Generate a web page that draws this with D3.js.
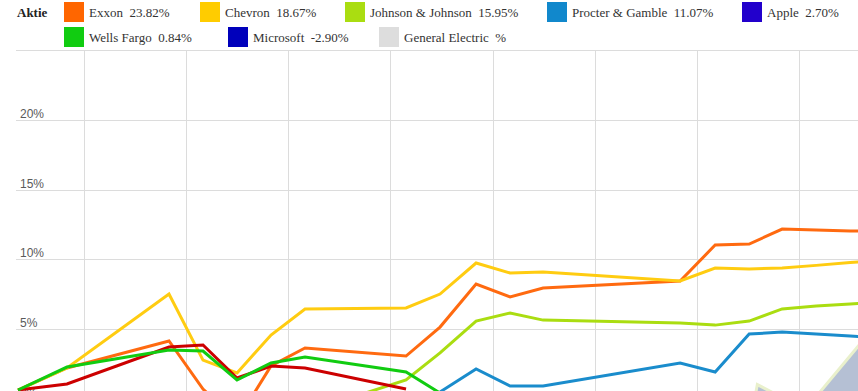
<!DOCTYPE html>
<html><head><meta charset="utf-8">
<script src="https://cdn.jsdelivr.net/npm/d3@7"></script>
<style>body{margin:0;background:#fff;overflow:hidden}svg{display:block}</style>
</head><body>
<svg id="c" width="858" height="391"></svg>
<script>
// ---- data ----
const periods = [0, 1.44, 4.44, 5.44, 6.44, 7.44, 8.44, 11.41, 12.41, 13.47, 14.47, 15.44, 19.47, 20.5, 21.5, 22.47, 23.47, 24.47, 25.47];
const exxon    = [0.61, 2.19, 4.13, 0.68, -1.6, 2.34, 3.63, 3.05, 5.13, 8.22, 7.29, 7.93, 8.44, 11.02, 11.09, 12.17, 12.10, 12.03, 11.99];
const chevron  = [0.61, 2.19, 7.50, 2.76, 1.83, 4.56, 6.43, 6.50, 7.50, 9.73, 9.01, 9.08, 8.44, 9.37, 9.30, 9.37, 9.56, 9.76, 9.95];
const jnj      = [null, null, null, null, null, null, -1.0, 1.33, 3.27, 5.56, 6.14, 5.63, 5.42, 5.27, 5.56, 6.43, 6.64, 6.78, 6.93];
const pg       = [null, null, null, null, null, null, null, null, 0.47, 2.12, 0.90, 0.90, 2.55, 1.90, 4.63, 4.77, 4.63, 4.49, 4.34];
const wells    = [0.61, 2.26, 3.48, 3.41, 1.33, 2.55, 2.98, 1.90, 0.39, null, null, null, null, null, null, null, null, null, null];
const redLine  = [0.61, 1.04, 3.70, 3.84, 1.47, 2.33, 2.19, 0.68, null, null, null, null, null, null, null, null, null, null, null];
const shapePeriods = [21.55, 21.74, 23.15, 25.47];
const shapeValues  = [-1.5, 1.0, -0.8, 6.0];

const legendNames   = ["Exxon", "Chevron", "Johnson & Johnson", "Procter & Gamble", "Apple", "Wells Fargo", "Microsoft", "General Electric"];
const legendReturns = ["23.82", "18.67", "15.95", "11.07", "2.70", "0.84", "-2.90", ""];
const legendColors  = ["#ff6600", "#ffcc00", "#aadd11", "#1188cc", "#2200cc", "#11cc11", "#0000bb", "#dddddd"];

const yTicks = [0, 5, 10, 15, 20, 25];
const xGrid  = [1.94, 4.94, 7.94, 10.94, 13.97, 16.97, 19.97, 22.97];

// ---- drawing ----
const svg = d3.select("#c");
const x = d3.scaleLinear().domain([0, 24.7]).range([18, 858]);
const y = d3.scaleLinear().domain([0, 20]).range([398.5, 120]);

const grid = svg.append("g");
grid.selectAll("line.h").data(yTicks).join("line")
  .attr("x1", 16).attr("x2", 858)
  .attr("y1", d => Math.round(y(d)) + 0.5).attr("y2", d => Math.round(y(d)) + 0.5)
  .attr("stroke", "#dcdcdc").attr("stroke-width", 1);
grid.selectAll("line.v").data(xGrid).join("line")
  .attr("x1", d => Math.round(x(d)) + 0.5).attr("x2", d => Math.round(x(d)) + 0.5)
  .attr("y1", y(25)).attr("y2", 391)
  .attr("stroke", "#dcdcdc").attr("stroke-width", 1);
grid.selectAll("text").data(yTicks.filter(d => d < 25)).join("text")
  .attr("x", 20).attr("y", d => y(d) - 2)
  .attr("font-family", "Liberation Sans, Arial, sans-serif").attr("font-size", 12)
  .attr("fill", "#5a5a5a").text(d => d + "%");

// gray-blue shape at bottom right
const shape = shapePeriods.map((p, i) => [p, shapeValues[i]]);
svg.append("path").datum(shape)
  .attr("d", d3.area().x(d => x(d[0])).y0(y(-3)).y1(d => y(d[1])))
  .attr("fill", "#b5c0d4");
svg.append("path").datum(shape)
  .attr("d", d3.line().x(d => x(d[0])).y(d => y(d[1])))
  .attr("fill", "none").attr("stroke", "#e9f0cc").attr("stroke-width", 3);

const series = [
  {vals: exxon,   color: "#ff6a10"},
  {vals: chevron, color: "#ffcc11"},
  {vals: jnj,     color: "#aadd11"},
  {vals: pg,      color: "#1a8ccc"},
  {vals: redLine, color: "#cc0000"},
  {vals: wells,   color: "#11cc11"}
];
const line = d3.line().defined(d => d[1] != null).x(d => x(d[0])).y(d => y(d[1]));
svg.append("g").selectAll("path").data(series).join("path")
  .attr("d", s => line(periods.map((p, i) => [p, s.vals[i]])))
  .attr("fill", "none").attr("stroke", s => s.color)
  .attr("stroke-width", 3).attr("stroke-linejoin", "miter").attr("stroke-linecap", "butt");

// legend
const legX = [64, 200, 345, 547, 742, 64, 228, 379];
const legRow = [0, 0, 0, 0, 0, 1, 1, 1];
const leg = svg.append("g");
leg.append("text").attr("x", 17).attr("y", 17)
  .attr("font-family", "Liberation Serif, Times New Roman, serif").attr("font-size", 13)
  .attr("font-weight", "bold").attr("fill", "#222").text("Aktie");
const items = leg.selectAll("g").data(legendNames).join("g")
  .attr("transform", (d, i) => `translate(${legX[i]},${2 + legRow[i] * 25})`);
items.append("rect").attr("width", 20).attr("height", 20)
  .attr("fill", (d, i) => legendColors[i]);
items.append("text").attr("x", 25).attr("y", 15)
  .attr("font-family", "Liberation Serif, Times New Roman, serif").attr("font-size", 13)
  .attr("fill", "#333")
  .text((d, i) => d + "\u00a0 " + legendReturns[i] + "%");
</script>
</body></html>
